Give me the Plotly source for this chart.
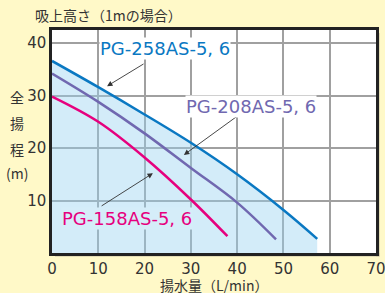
import plotly.graph_objects as go

# Flow (L/min) and total head (m)
x_258 = [0, 10, 20, 30, 40, 50, 57.3]
y_258 = [36.6, 31.6, 26.4, 21.0, 15.0, 8.2, 2.7]

x_208 = [0, 10, 20, 30, 40, 48.4]
y_208 = [34.2, 28.8, 22.8, 16.2, 9.6, 2.6]

x_158 = [0, 10, 20, 30, 37.9]
y_158 = [29.8, 25.0, 18.2, 10.2, 3.2]

x_ticks = [0, 10, 20, 30, 40, 50, 60, 70]
y_ticks = [10, 20, 30, 40]

series_names = ["PG-258AS-5, 6", "PG-208AS-5, 6", "PG-158AS-5, 6"]

BLUE = "#0a78c2"
PURPLE = "#7068b0"
MAGENTA = "#e6007e"
FONT = "DejaVu Sans, Noto Sans CJK JP"
JFONT = "Noto Sans CJK JP"
PW, PH = 324, 223

fig = go.Figure()

fig.add_trace(go.Scatter(x=x_258, y=y_258, mode="lines", fill="tozeroy",
                         fillcolor="rgba(150,210,240,0.42)", line_shape="spline",
                         line=dict(color=BLUE, width=2.5), hoverinfo="skip"))
fig.add_trace(go.Scatter(x=x_208, y=y_208, mode="lines", line_shape="spline",
                         line=dict(color=PURPLE, width=2.5), hoverinfo="skip"))
fig.add_trace(go.Scatter(x=x_158, y=y_158, mode="lines", line_shape="spline",
                         line=dict(color=MAGENTA, width=2.5), hoverinfo="skip"))

ann = []
for (hx, hy, tx, ty) in [(11.9, 31.8, 20.1, 36.2), (28.5, 18.7, 41.3, 26.9), (21.8, 15.2, 10.4, 8.8)]:
    ann.append(dict(x=hx, y=hy, ax=tx, ay=ty, xref="x", yref="y", axref="x", ayref="y",
                    text="", showarrow=True, arrowhead=2, arrowsize=1.2, arrowwidth=0.9,
                    arrowcolor="#333333"))
ann.append(dict(x=24.4, y=38.9, xref="x", yref="y", text=series_names[0], showarrow=False,
                font=dict(family=FONT, size=18, color=BLUE), bgcolor="white", borderpad=0))
ann.append(dict(x=43.1, y=27.9, xref="x", yref="y", text=series_names[1], showarrow=False,
                font=dict(family=FONT, size=18, color=PURPLE), bgcolor="white", borderpad=0))
ann.append(dict(x=16.3, y=6.5, xref="x", yref="y", text=series_names[2], showarrow=False,
                font=dict(family=FONT, size=18, color=MAGENTA), bgcolor="rgb(213,237,249)", borderpad=0))
ann.append(dict(x=(33 - 52) / PW, y=(253 - 15) / PH, xref="paper", yref="paper",
                xanchor="left", yanchor="middle", text="吸上高さ（1mの場合）", showarrow=False,
                font=dict(family=JFONT, size=14, color="#333333")))
for ch, py in [("全", 97), ("揚", 123), ("程", 149), ("(m)", 173)]:
    ann.append(dict(x=(17 - 52) / PW, y=(253 - py) / PH, xref="paper", yref="paper",
                    xanchor="center", yanchor="middle", text=ch, showarrow=False,
                    font=dict(family=JFONT, size=14, color="#333333")))
ann.append(dict(x=(214 - 52) / PW, y=(253 - 285) / PH, xref="paper", yref="paper",
                xanchor="center", yanchor="middle", text="揚水量（L/min）", showarrow=False,
                font=dict(family=JFONT, size=14, color="#333333")))

shadow = "#c9c2a2"
shapes = [
    dict(type="rect", xref="paper", yref="paper", x0=1, x1=1 + 3.5 / PW, y0=-3.5 / PH, y1=1 - 3 / PH,
         fillcolor=shadow, line_width=0, layer="below"),
    dict(type="rect", xref="paper", yref="paper", x0=3 / PW, x1=1 + 3.5 / PW, y0=-3.5 / PH, y1=0,
         fillcolor=shadow, line_width=0, layer="below"),
]

fig.update_layout(
    width=385, height=293,
    margin=dict(l=52, r=9, t=30, b=40, autoexpand=False),
    paper_bgcolor="#fff9c8",
    plot_bgcolor="white",
    showlegend=False,
    annotations=ann,
    shapes=shapes,
    font=dict(family=FONT, color="#333333"),
)
axis_common = dict(showgrid=True, gridcolor="#a0a0a0", gridwidth=1.5, automargin=False,
                   ticklabeloverflow="allow",
                   showline=True, mirror=True, linecolor="#222222", linewidth=2.5, zeroline=False,
                   tickfont=dict(family=FONT, size=15, color="#333333"), ticks="")
fig.update_xaxes(range=[0, 70], tickvals=x_ticks, **axis_common)
fig.update_yaxes(range=[0, 42.5], tickvals=y_ticks, **axis_common)

fig.write_html("out.html", config={"displayModeBar": False},
               post_script="document.body.style.margin='0';document.body.style.padding='0';")
